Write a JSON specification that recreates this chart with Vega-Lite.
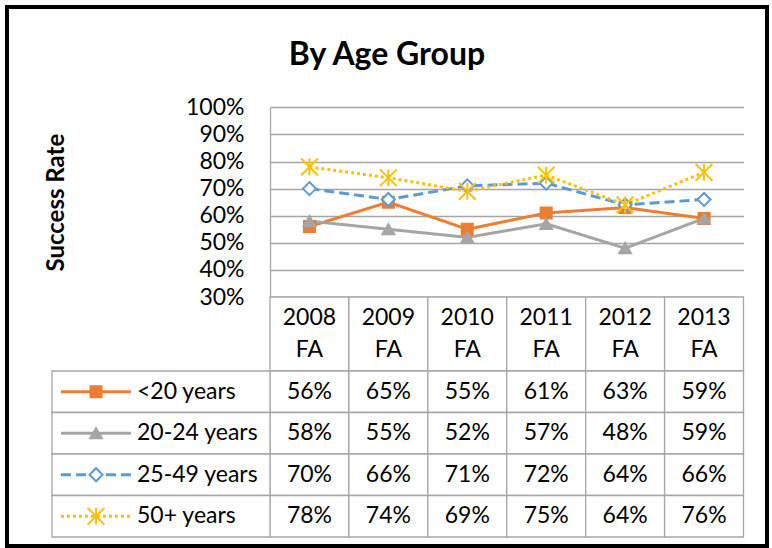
{
  "$schema": "https://vega.github.io/schema/vega-lite/v6.json",
  "width": 760,
  "height": 539,
  "autosize": {"type": "none"},
  "padding": {"left": 7, "top": 7, "right": 5, "bottom": 2},
  "background": "white",
  "title": {"text": "By Age Group", "font": "Lato", "fontSize": 32, "fontWeight": "bold", "color": "black", "anchor": "middle", "offset": -65},
  "config": {"view": {"stroke": "black", "strokeWidth": 4, "fill": "white"}, "font": "Lato"},
  "datasets": {
    "rates": [
      {"series": "<20 years", "year": "2008 FA", "value": 0.56},
      {"series": "<20 years", "year": "2009 FA", "value": 0.65},
      {"series": "<20 years", "year": "2010 FA", "value": 0.55},
      {"series": "<20 years", "year": "2011 FA", "value": 0.61},
      {"series": "<20 years", "year": "2012 FA", "value": 0.63},
      {"series": "<20 years", "year": "2013 FA", "value": 0.59},
      {"series": "20-24 years", "year": "2008 FA", "value": 0.58},
      {"series": "20-24 years", "year": "2009 FA", "value": 0.55},
      {"series": "20-24 years", "year": "2010 FA", "value": 0.52},
      {"series": "20-24 years", "year": "2011 FA", "value": 0.57},
      {"series": "20-24 years", "year": "2012 FA", "value": 0.48},
      {"series": "20-24 years", "year": "2013 FA", "value": 0.59},
      {"series": "25-49 years", "year": "2008 FA", "value": 0.70},
      {"series": "25-49 years", "year": "2009 FA", "value": 0.66},
      {"series": "25-49 years", "year": "2010 FA", "value": 0.71},
      {"series": "25-49 years", "year": "2011 FA", "value": 0.72},
      {"series": "25-49 years", "year": "2012 FA", "value": 0.64},
      {"series": "25-49 years", "year": "2013 FA", "value": 0.66},
      {"series": "50+ years", "year": "2008 FA", "value": 0.78},
      {"series": "50+ years", "year": "2009 FA", "value": 0.74},
      {"series": "50+ years", "year": "2010 FA", "value": 0.69},
      {"series": "50+ years", "year": "2011 FA", "value": 0.75},
      {"series": "50+ years", "year": "2012 FA", "value": 0.64},
      {"series": "50+ years", "year": "2013 FA", "value": 0.76}
    ]
  },
  "data": {"name": "rates"},
  "resolve": {"scale": {"x": "independent", "y": "independent"}},
  "layer": [
    {
      "encoding": {
        "x": {"field": "year", "type": "nominal", "scale": {"type": "point", "domain": ["2008 FA", "2009 FA", "2010 FA", "2011 FA", "2012 FA", "2013 FA"], "range": [263, 736.5], "padding": 0.5}, "axis": null},
        "y": {"field": "value", "type": "quantitative",
          "scale": {"domain": [0.3, 1], "range": [290, 100.3], "zero": false, "nice": false},
          "axis": {"values": [0.3, 0.4, 0.5, 0.6, 0.7, 0.8, 0.9, 1], "format": ".0%", "offset": -263,
            "domain": true, "domainColor": "#A6A6A6", "domainWidth": 1.3, "ticks": false, "tickSize": 0,
            "labelPadding": 26, "labelFont": "Lato", "labelFontSize": 23, "labelColor": "black",
            "grid": true, "gridColor": "#A6A6A6", "gridWidth": 1.3,
            "title": "Success Rate", "titleFont": "Lato", "titleFontSize": 24, "titleFontWeight": "bold", "titleColor": "black",
            "titleX": -214, "titleBaseline": "middle"}}
      },
      "layer": [
        {
          "mark": {"type": "line", "strokeWidth": 3, "strokeCap": "butt"},
          "encoding": {
            "color": {"field": "series", "type": "nominal", "scale": {"domain": ["<20 years", "20-24 years", "25-49 years", "50+ years"], "range": ["#ED7D31", "#A5A5A5", "#5B9BD5", "#FFC000"]}, "legend": null},
            "strokeDash": {"field": "series", "type": "nominal", "scale": {"domain": ["<20 years", "20-24 years", "25-49 years", "50+ years"], "range": [[1, 0], [1, 0], [10, 5], [3, 3]]}, "legend": null}
          }
        },
        {
          "mark": {"type": "point", "opacity": 1, "strokeWidth": 2},
          "encoding": {
            "stroke": {"field": "series", "type": "nominal", "scale": {"domain": ["<20 years", "20-24 years", "25-49 years", "50+ years"], "range": ["#ED7D31", "#A5A5A5", "#5B9BD5", "#FFC000"]}, "legend": null},
            "fill": {"field": "series", "type": "nominal", "scale": {"domain": ["<20 years", "20-24 years", "25-49 years", "50+ years"], "range": ["#ED7D31", "#A5A5A5", "#FFFFFF", "transparent"]}, "legend": null},
            "shape": {"field": "series", "type": "nominal", "scale": {"domain": ["<20 years", "20-24 years", "25-49 years", "50+ years"], "range": ["square", "triangle-up", "diamond", "M0,-1V1M-1,-1L1,1M-1,1L1,-1"]}, "legend": null},
            "size": {"field": "series", "type": "nominal", "scale": {"type": "ordinal", "domain": ["<20 years", "20-24 years", "25-49 years", "50+ years"], "range": [121, 140, 169, 280]}, "legend": null}
          }
        }
      ]
    },
    {
      "transform": [{"filter": "datum.series === '<20 years'"}],
      "encoding": {
        "x": {"field": "year", "type": "nominal", "scale": {"type": "band", "domain": ["2008 FA", "2009 FA", "2010 FA", "2011 FA", "2012 FA", "2013 FA"], "range": [263, 736.5], "paddingInner": 0, "paddingOuter": 0}, "axis": null},
        "y": {"datum": "hdr", "type": "nominal", "scale": {"type": "band", "domain": ["hdr"], "range": [290, 364], "paddingInner": 0, "paddingOuter": 0}, "axis": null}
      },
      "layer": [
        {"mark": {"type": "rect", "fill": "white", "stroke": "#A6A6A6", "strokeWidth": 1.3}},
        {"mark": {"type": "text", "lineBreak": " ", "lineHeight": 32, "fontSize": 23, "font": "Lato", "color": "black", "baseline": "middle", "dy": -16},
         "encoding": {"text": {"field": "year"}}}
      ]
    },
    {
      "encoding": {
        "x": {"field": "year", "type": "nominal", "scale": {"type": "band", "domain": ["2008 FA", "2009 FA", "2010 FA", "2011 FA", "2012 FA", "2013 FA"], "range": [263, 736.5], "paddingInner": 0, "paddingOuter": 0}, "axis": null},
        "y": {"field": "series", "type": "nominal", "scale": {"type": "band", "domain": ["<20 years", "20-24 years", "25-49 years", "50+ years"], "range": [364, 530], "paddingInner": 0, "paddingOuter": 0}, "axis": null}
      },
      "layer": [
        {"mark": {"type": "rect", "fill": "white", "stroke": "#A6A6A6", "strokeWidth": 1.3}},
        {"mark": {"type": "text", "fontSize": 23, "font": "Lato", "color": "black", "baseline": "middle"},
         "encoding": {"text": {"field": "value", "type": "quantitative", "format": ".0%"}}}
      ]
    },
    {
      "transform": [{"filter": "datum.year === '2008 FA'"}],
      "encoding": {
        "y": {"field": "series", "type": "nominal", "scale": {"type": "band", "domain": ["<20 years", "20-24 years", "25-49 years", "50+ years"], "range": [364, 530], "paddingInner": 0, "paddingOuter": 0}, "axis": null}
      },
      "layer": [
        {"mark": {"type": "rect", "fill": "white", "stroke": "#A6A6A6", "strokeWidth": 1.3},
         "encoding": {
           "x": {"datum": 0, "type": "quantitative", "scale": {"domain": [0, 1], "range": [45, 263], "zero": false, "nice": false}, "axis": null},
           "x2": {"datum": 1}
         }},
        {"mark": {"type": "rule", "strokeWidth": 3, "strokeCap": "butt"},
         "encoding": {
           "x": {"datum": 0.041, "type": "quantitative"},
           "x2": {"datum": 0.362},
           "color": {"field": "series", "type": "nominal", "scale": {"domain": ["<20 years", "20-24 years", "25-49 years", "50+ years"], "range": ["#ED7D31", "#A5A5A5", "#5B9BD5", "#FFC000"]}, "legend": null},
           "strokeDash": {"field": "series", "type": "nominal", "scale": {"domain": ["<20 years", "20-24 years", "25-49 years", "50+ years"], "range": [[1, 0], [1, 0], [10, 5], [3, 3]]}, "legend": null}
         }},
        {"mark": {"type": "point", "opacity": 1, "strokeWidth": 2},
         "encoding": {
           "x": {"datum": 0.202, "type": "quantitative"},
           "stroke": {"field": "series", "type": "nominal", "scale": {"domain": ["<20 years", "20-24 years", "25-49 years", "50+ years"], "range": ["#ED7D31", "#A5A5A5", "#5B9BD5", "#FFC000"]}, "legend": null},
           "fill": {"field": "series", "type": "nominal", "scale": {"domain": ["<20 years", "20-24 years", "25-49 years", "50+ years"], "range": ["#ED7D31", "#A5A5A5", "#FFFFFF", "transparent"]}, "legend": null},
           "shape": {"field": "series", "type": "nominal", "scale": {"domain": ["<20 years", "20-24 years", "25-49 years", "50+ years"], "range": ["square", "triangle-up", "diamond", "M0,-1V1M-1,-1L1,1M-1,1L1,-1"]}, "legend": null},
           "size": {"field": "series", "type": "nominal", "scale": {"type": "ordinal", "domain": ["<20 years", "20-24 years", "25-49 years", "50+ years"], "range": [121, 140, 169, 280]}, "legend": null}
         }},
        {"mark": {"type": "text", "fontSize": 23, "font": "Lato", "color": "black", "align": "left", "baseline": "middle"},
         "encoding": {
           "x": {"datum": 0.39, "type": "quantitative"},
           "text": {"field": "series"}
         }}
      ]
    }
  ]
}
